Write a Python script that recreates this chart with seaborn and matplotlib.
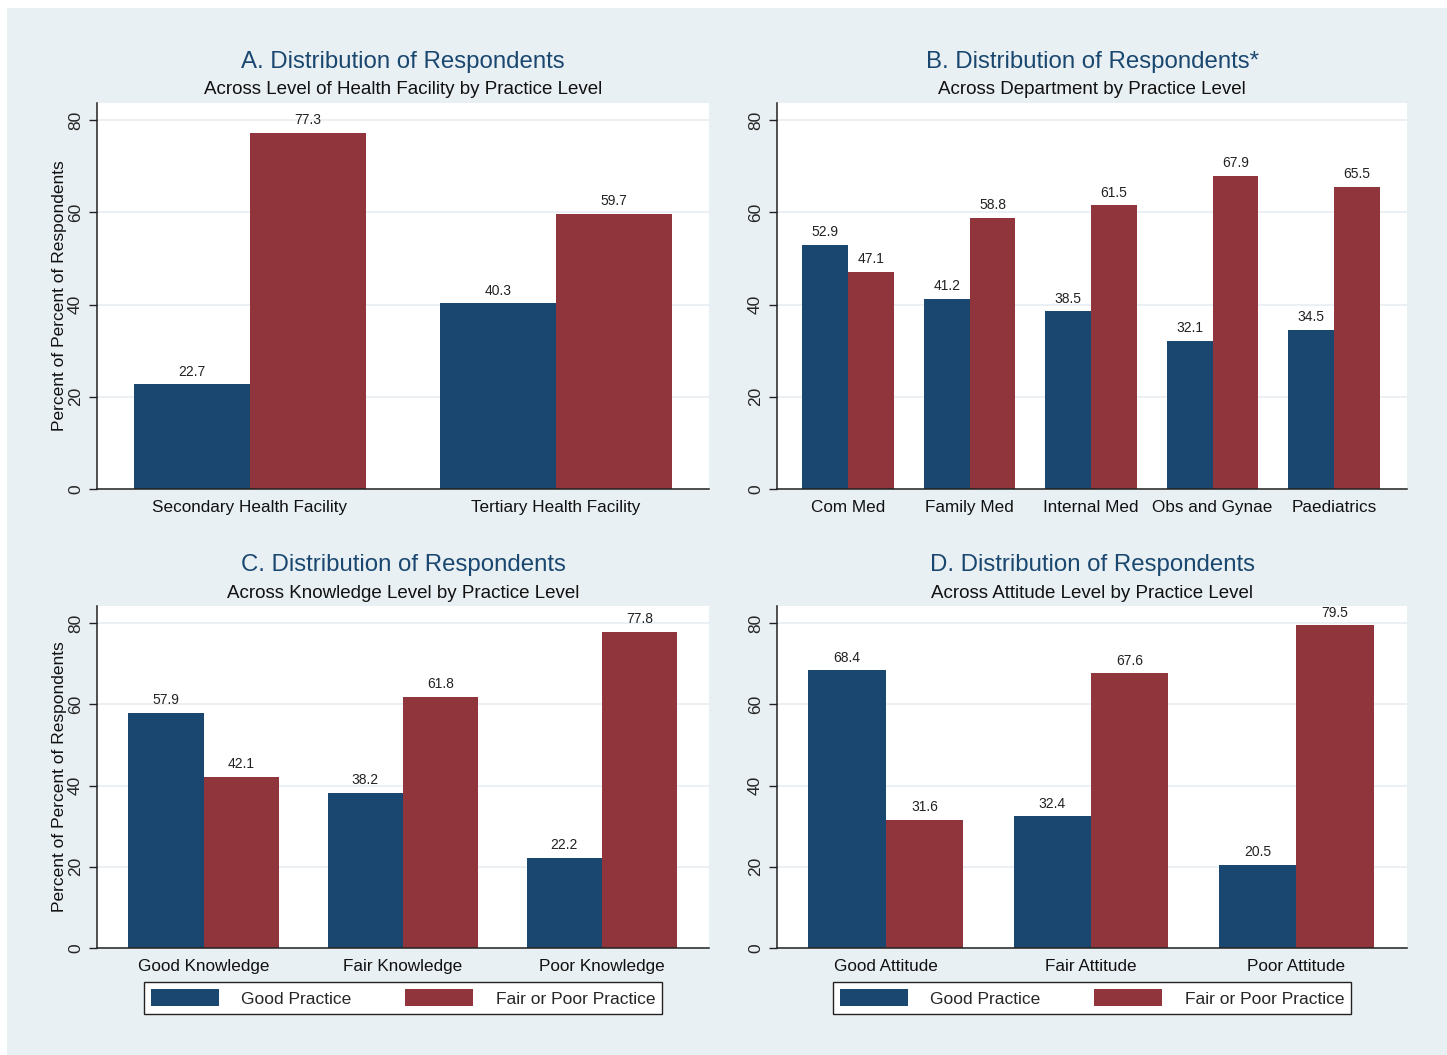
import matplotlib
matplotlib.use("Agg")
import matplotlib.pyplot as plt
import matplotlib.patches as mpatches
import seaborn as sns
import pandas as pd

# ---------------- data ----------------
practice_levels = ["Good Practice", "Fair or Poor Practice"]

facility_cats = ["Secondary Health Facility", "Tertiary Health Facility"]
facility_good = [22.7, 40.3]
facility_poor = [77.3, 59.7]

dept_cats = ["Com Med", "Family Med", "Internal Med", "Obs and Gynae", "Paediatrics"]
dept_good = [52.9, 41.2, 38.5, 32.1, 34.5]
dept_poor = [47.1, 58.8, 61.5, 67.9, 65.5]

know_cats = ["Good Knowledge", "Fair Knowledge", "Poor Knowledge"]
know_good = [57.9, 38.2, 22.2]
know_poor = [42.1, 61.8, 77.8]

att_cats = ["Good Attitude", "Fair Attitude", "Poor Attitude"]
att_good = [68.4, 32.4, 20.5]
att_poor = [31.6, 67.6, 79.5]

titles = ["A. Distribution of Respondents", "B. Distribution of Respondents*",
          "C. Distribution of Respondents", "D. Distribution of Respondents"]
subtitles = ["Across Level of Health Facility by Practice Level",
             "Across Department by Practice Level",
             "Across Knowledge Level by Practice Level",
             "Across Attitude Level by Practice Level"]
ylabel = "Percent of Percent of Respondents"

# ---------------- style ----------------
NAVY = "#1A476F"
MAROON = "#90353B"
BG = "#E9F0F3"
GRID = "#E6EEF1"

sns.set_theme(style="white")
plt.rcParams["font.family"] = ["Liberation Sans", "DejaVu Sans"]

W, H = 1447, 1055
fig = plt.figure(figsize=(W / 100, H / 100), dpi=100)
fig.patch.set_facecolor("white")
fig.add_artist(mpatches.Rectangle((7 / W, 0), 1, 1 - 8 / H, transform=fig.transFigure,
                                  facecolor=BG, edgecolor="none", zorder=-10))

def make_df(cats, good, poor):
    rows = []
    for c, g, p in zip(cats, good, poor):
        rows.append({"cat": c, "practice": practice_levels[0], "value": g})
        rows.append({"cat": c, "practice": practice_levels[1], "value": p})
    return pd.DataFrame(rows)

# (left, top, right, bottom) in pixels
boxes = [(97, 103, 709, 489), (777, 103, 1407, 489),
         (97, 606, 709, 948), (777, 606, 1407, 948)]
datasets = [(facility_cats, facility_good, facility_poor),
            (dept_cats, dept_good, dept_poor),
            (know_cats, know_good, know_poor),
            (att_cats, att_good, att_poor)]
ytops = [83.7, 83.7, 84.2, 84.2]
xpads = [(0.5, 0.5), (0.585, 0.6), (0.535, 0.537), (0.53, 0.54)]

for i, ((l, t, r, b), (cats, good, poor)) in enumerate(zip(boxes, datasets)):
    ax = fig.add_axes([l / W, 1 - b / H, (r - l) / W, (b - t) / H])
    ax.set_facecolor("white")
    df = make_df(cats, good, poor)
    sns.barplot(data=df, x="cat", y="value", hue="practice", order=cats,
                hue_order=practice_levels, palette=[NAVY, MAROON], width=0.755,
                dodge=True, gap=0, saturation=1, errorbar=None, ax=ax,
                legend=False, linewidth=0)
    for cont in ax.containers:
        ax.bar_label(cont, fmt="%.1f", padding=4, fontsize=10, color="#222222")
    ax.set_ylim(0, ytops[i])
    ax.set_xlim(-xpads[i][0], len(cats) - 1 + xpads[i][1])
    ax.set_yticks([0, 20, 40, 60, 80])
    ax.tick_params(axis="y", which="both", left=True, length=6, width=1,
                   color="#222222", labelsize=12.5, labelrotation=90, pad=4)
    for lab in ax.get_yticklabels():
        lab.set_verticalalignment("center")
    ax.tick_params(axis="x", length=0, labelsize=12.3, pad=8, labelcolor="#111111")
    ax.yaxis.grid(True, color=GRID, linewidth=1.2)
    ax.set_axisbelow(True)
    for s in ["top", "right"]:
        ax.spines[s].set_visible(False)
    for s in ["left", "bottom"]:
        ax.spines[s].set_visible(True)
        ax.spines[s].set_color("#222222")
        ax.spines[s].set_linewidth(1.1)
    ax.set_xlabel("")
    if i % 2 == 0:
        ax.set_ylabel(ylabel, fontsize=12.5, color="#111111", labelpad=1)
    else:
        ax.set_ylabel("")
    cx = (l + r) / 2 / W
    fig.text(cx, 1 - 62 / H if i < 2 else 1 - 565 / H, titles[i], ha="center", va="center",
             fontsize=17.3, color=NAVY)
    fig.text(cx, 1 - 90 / H if i < 2 else 1 - 593 / H, subtitles[i], ha="center", va="center",
             fontsize=13.5, color="#111111")
    if i >= 2:
        handles = [mpatches.Patch(facecolor=NAVY, edgecolor="none", label=practice_levels[0]),
                   mpatches.Patch(facecolor=MAROON, edgecolor="none", label=practice_levels[1])]
        leg = ax.legend(handles=handles, ncol=2, loc="center",
                        bbox_to_anchor=(0.5, (b - 998) / (b - t)),
                        frameon=True, fontsize=12.5, handlelength=3.9, handleheight=1.1,
                        handletextpad=1.3, columnspacing=3.1, borderpad=0.4,
                        borderaxespad=0, fancybox=False, edgecolor="#222222", framealpha=1)
        leg.get_frame().set_linewidth(1.0)
        leg.get_frame().set_facecolor("white")

fig.savefig("out.png", dpi=100, facecolor=fig.get_facecolor())
